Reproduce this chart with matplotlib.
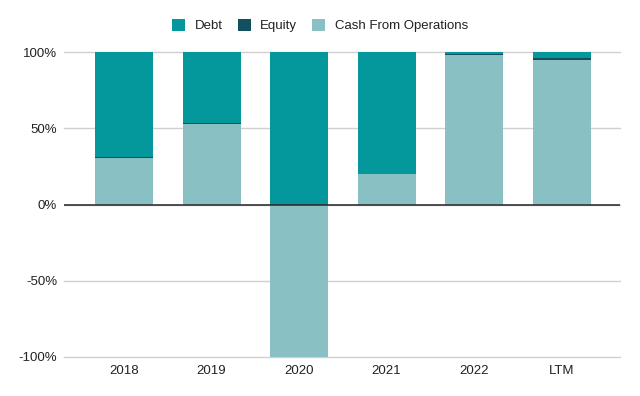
import matplotlib
matplotlib.use("Agg")
import matplotlib.pyplot as plt
from matplotlib.ticker import PercentFormatter
import numpy as np

plt.rcParams['font.family'] = ['Liberation Sans', 'DejaVu Sans']
plt.rcParams['axes.unicode_minus'] = False

years = ["2018", "2019", "2020", "2021", "2022", "LTM"]
cfo = [30.7, 52.9, -100.0, 20.0, 98.3, 94.9]
equity = [0.7, 0.7, 0.6, 0.3, 0.7, 1.1]
debt = [68.6, 46.4, 99.4, 79.7, 1.0, 4.0]

c_debt = "#04979b"
c_equity = "#134f5c"
c_cfo = "#89c0c3"

fig = plt.figure(figsize=(6.4, 3.96), dpi=100)
ax = fig.add_axes([0.1, 0.0985, 0.869, 0.770])

x = np.arange(len(years))
w = 0.663
cfo = np.array(cfo)
equity = np.array(equity)
debt = np.array(debt)

# positive parts stack from 0 upward, negative cfo goes below
pos_cfo = np.clip(cfo, 0, None)
ax.bar(x, cfo, w, color=c_cfo, label="Cash From Operations", zorder=3)
ax.bar(x, equity, w, bottom=pos_cfo, color=c_equity, label="Equity", zorder=3)
ax.bar(x, debt, w, bottom=pos_cfo + equity, color=c_debt, label="Debt", zorder=3)

ax.set_xlim(-0.686, 5.67)
ax.set_ylim(-100, 100)
ax.set_yticks([-100, -50, 0, 50, 100])
ax.yaxis.set_major_formatter(PercentFormatter(decimals=0))
ax.set_xticks(x)
ax.set_xticklabels(years)
ax.grid(axis="y", color="#d0d0d0", linewidth=1, zorder=0)
for gl in ax.get_ygridlines():
    gl.set_clip_on(False)
ax.axhline(0, color="#333333", linewidth=1.2, zorder=4)
for s in ax.spines.values():
    s.set_visible(False)
ax.tick_params(length=0, labelsize=9.5, colors="#222222")
ax.tick_params(axis="y", pad=5)
ax.tick_params(axis="x", pad=6)

h, l = ax.get_legend_handles_labels()
order = [2, 1, 0]
fig.legend([h[i] for i in order], [l[i] for i in order], loc="center",
           bbox_to_anchor=(0.5, 0.935), ncol=3, frameon=False, fontsize=9.5,
           handlelength=1.0, handleheight=1.0, handletextpad=0.7, columnspacing=1.15,
           labelcolor="#222222")

fig.savefig("out.png", dpi=100)
